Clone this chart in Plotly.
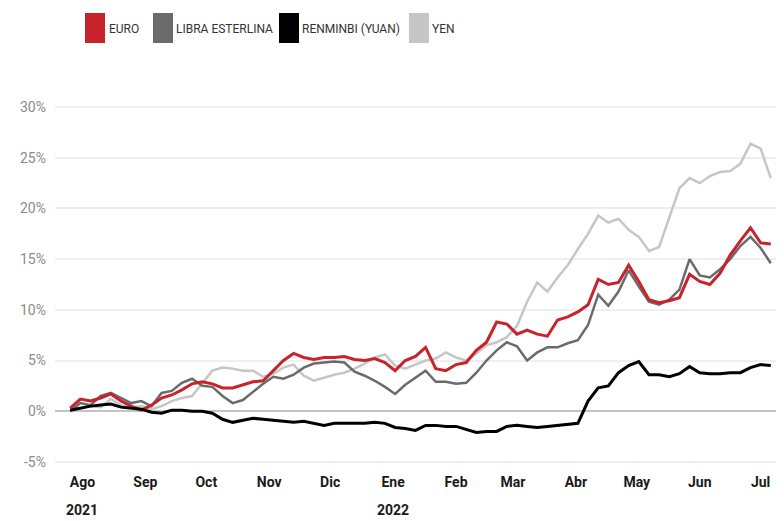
import plotly.graph_objects as go
import pandas as pd

# one reading every 5 days, starting 26 Jul 2021
fechas = pd.date_range("2021-07-26", periods=70, freq="5D")

euro = [0.3, 1.2, 1.0, 1.3, 1.7, 1.0, 0.5, 0.1, 0.6, 1.3,
        1.6, 2.1, 2.7, 2.9, 2.7, 2.3, 2.3, 2.6, 2.9, 3.0,
        4.0, 5.0, 5.7, 5.3, 5.1, 5.3, 5.3, 5.4, 5.1, 5.0,
        5.2, 4.8, 4.0, 5.0, 5.4, 6.3, 4.2, 4.0, 4.6, 4.8,
        6.0, 6.8, 8.8, 8.6, 7.6, 8.0, 7.6, 7.4, 9.0, 9.3,
        9.8, 10.5, 13.0, 12.5, 12.7, 14.4, 12.8, 11.0, 10.7, 10.9,
        11.2, 13.5, 12.8, 12.5, 13.6, 15.4, 16.8, 18.1, 16.6, 16.5]

libra = [0.0, 0.8, 0.6, 1.5, 1.8, 1.3, 0.8, 1.0, 0.5, 1.8,
         2.0, 2.8, 3.2, 2.5, 2.4, 1.5, 0.8, 1.1, 1.9, 2.7,
         3.4, 3.2, 3.6, 4.3, 4.7, 4.8, 4.9, 4.8, 3.9, 3.5,
         3.0, 2.4, 1.7, 2.6, 3.3, 4.0, 2.9, 2.9, 2.7, 2.8,
         3.8, 5.0, 6.0, 6.8, 6.4, 5.0, 5.8, 6.3, 6.3, 6.7,
         7.0, 8.5, 11.5, 10.4, 11.8, 13.9, 12.3, 10.8, 10.5, 11.0,
         12.0, 15.0, 13.4, 13.2, 14.0, 15.0, 16.3, 17.2, 16.1, 14.6]

renminbi = [0.1, 0.3, 0.5, 0.6, 0.7, 0.4, 0.3, 0.2, -0.1, -0.2,
            0.1, 0.1, 0.0, 0.0, -0.2, -0.8, -1.1, -0.9, -0.7, -0.8,
            -0.9, -1.0, -1.1, -1.0, -1.2, -1.4, -1.2, -1.2, -1.2, -1.2,
            -1.1, -1.2, -1.6, -1.7, -1.9, -1.4, -1.4, -1.5, -1.5, -1.8,
            -2.1, -2.0, -2.0, -1.5, -1.4, -1.5, -1.6, -1.5, -1.4, -1.3,
            -1.2, 1.0, 2.3, 2.5, 3.8, 4.5, 4.9, 3.6, 3.6, 3.4,
            3.7, 4.4, 3.8, 3.7, 3.7, 3.8, 3.8, 4.3, 4.6, 4.5]

yen = [0.0, 0.3, 0.5, 0.4, 1.2, 0.6, 0.4, 0.5, 0.2, 0.5,
       1.0, 1.3, 1.5, 2.8, 4.0, 4.3, 4.2, 4.0, 4.0, 3.4,
       3.7, 4.3, 4.6, 3.5, 3.0, 3.3, 3.6, 3.8, 4.2, 4.7,
       5.3, 5.6, 4.5, 4.2, 4.6, 5.0, 5.2, 5.8, 5.3, 5.0,
       5.7, 6.5, 6.8, 7.3, 8.4, 10.8, 12.7, 11.8, 13.2, 14.4,
       16.0, 17.5, 19.3, 18.6, 19.0, 17.9, 17.2, 15.8, 16.2, 19.0,
       22.0, 23.0, 22.5, 23.2, 23.6, 23.7, 24.4, 26.4, 25.9, 23.0]

meses = ["2021-08-01", "2021-09-01", "2021-10-01", "2021-11-01", "2021-12-01",
         "2022-01-01", "2022-02-01", "2022-03-01", "2022-04-01", "2022-05-01",
         "2022-06-01", "2022-07-01"]
meses_txt = ["Ago", "Sep", "Oct", "Nov", "Dic", "Ene", "Feb", "Mar", "Abr",
             "May", "Jun", "Jul"]

series = [("YEN", yen, "#c6c6c6", 2.5),
          ("LIBRA ESTERLINA", libra, "#6b6b6b", 2.5),
          ("EURO", euro, "#c8232b", 3),
          ("RENMINBI (YUAN)", renminbi, "#000000", 3)]

# the page body has an 8px margin, so the figure is 8px smaller and
# every pixel position below is given in page pixels minus 8
OFF = 8
W, H = 784 - OFF, 521 - OFF
ML, MR, MT, MB = 55 - OFF, 0, 97 - OFF, 49


def px(x):
    return (x - OFF - ML) / (W - ML - MR)


def py(y):
    return (H - MB - (y - OFF)) / (H - MT - MB)


fig = go.Figure()
for nombre, vals, color, ancho in series:
    fig.add_trace(go.Scatter(x=fechas, y=vals, mode="lines", name=nombre,
                             line=dict(color=color, width=ancho),
                             showlegend=False))

# legend drawn by hand: tall squares + labels
leyenda = [("EURO", "#c8232b", 85, 110),
           ("LIBRA ESTERLINA", "#6b6b6b", 153, 177),
           ("RENMINBI (YUAN)", "#000000", 279, 303),
           ("YEN", "#c6c6c6", 409, 433)]
shapes = []
annotations = []
for txt, color, x0, xt in leyenda:
    shapes.append(dict(type="rect", xref="paper", yref="paper",
                       x0=px(x0), x1=px(x0 + 20), y0=py(43), y1=py(13),
                       fillcolor=color, line=dict(width=0)))
    annotations.append(dict(text=txt, xref="paper", yref="paper",
                            x=px(xt - 3), y=py(29), xanchor="left", yanchor="middle",
                            showarrow=False,
                            font=dict(family="Roboto", size=12, color="#333333")))

for anio, fecha in [("2021", "2021-08-01"), ("2022", "2022-01-01")]:
    annotations.append(dict(text="<b>" + anio + "</b>", x=fecha, xref="x",
                            y=py(510), yref="paper", showarrow=False,
                            xanchor="center", yanchor="middle",
                            font=dict(family="Roboto, Liberation Sans", size=14, color="#1a1a1a")))

fig.update_layout(
    width=W, height=H,
    margin=dict(l=ML, r=MR, t=MT, b=MB),
    plot_bgcolor="white", paper_bgcolor="white",
    shapes=shapes, annotations=annotations,
    showlegend=False,
)

fig.update_xaxes(
    range=["2021-07-18 12:00", "2022-07-12 12:00"],
    tickvals=meses, ticktext=["<b>" + m + "</b>" for m in meses_txt],
    tickfont=dict(family="Roboto, Liberation Sans", size=14, color="#1a1a1a"),
    showgrid=False, zeroline=False, showline=False, ticks="", automargin=False,
)

fig.update_yaxes(
    range=[-6, 31],
    tickvals=[-5, 0, 5, 10, 15, 20, 25, 30],
    ticktext=["-5%", "0%", "5%", "10%", "15%", "20%", "25%", "30%"],
    tickfont=dict(family="Roboto, Liberation Sans", size=14, color="#8a8a8a"),
    showgrid=True, gridcolor="#efefef", gridwidth=1.5,
    zeroline=True, zerolinecolor="#c4c4c4", zerolinewidth=1.5,
    showline=False, ticks="", ticklabelstandoff=8, automargin=False,
)

fig.write_html("out.html")
